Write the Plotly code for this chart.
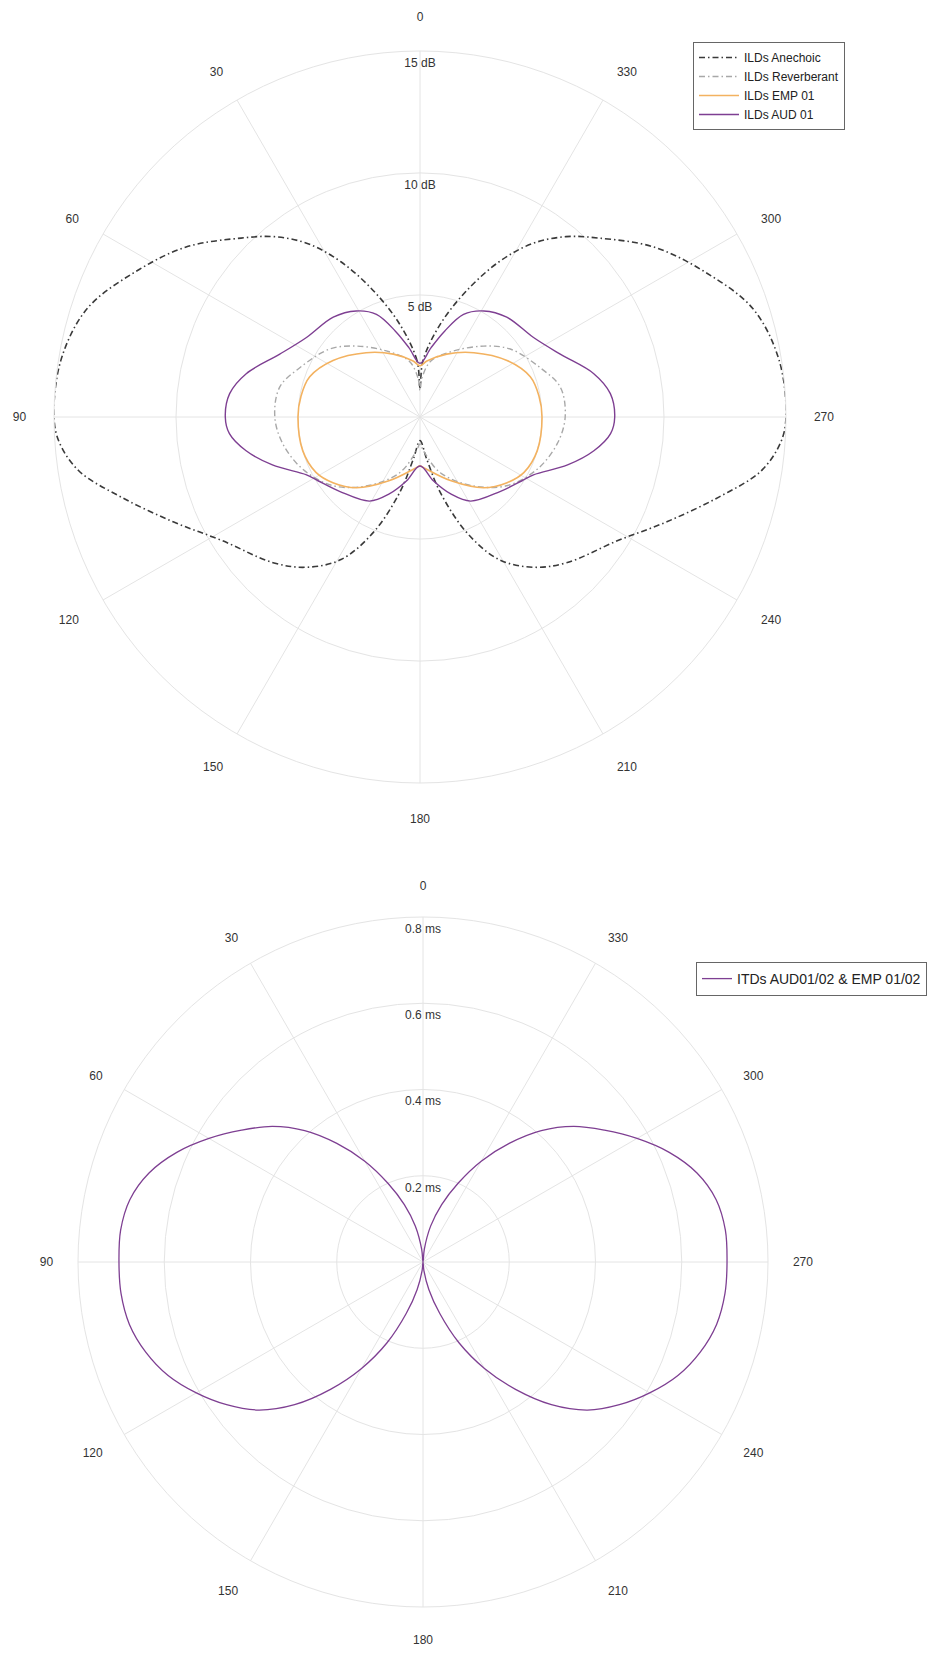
import plotly.graph_objects as go

# the page body has an 8px margin, so the figure is 928x1638 placed at (8,8)
OFF = 8
W, H = 944 - 2 * OFF, 1654 - 2 * OFF

# ---------------- ILD data (dB) ----------------
ane_theta = [0, 3, 12, 20, 27, 33, 39, 45, 54, 63, 72, 81, 90, 94, 99, 105, 113, 122, 135, 143, 151, 158, 165, 171, 180,
             189, 195, 202, 209, 217, 225, 238, 247, 255, 261, 266, 270, 279, 288, 297, 306, 315, 321, 327, 333, 340, 348, 357, 360]
ane_r = [1.20, 2.31, 3.83, 5.46, 7.14, 8.48, 9.51, 10.37, 11.85, 13.10, 14.35, 14.90, 15.00, 14.82, 14.15, 12.68, 10.99, 9.56, 8.46, 7.71, 6.68, 5.10, 3.19, 1.74, 0.97,
         1.74, 3.19, 5.10, 6.68, 7.71, 8.46, 9.56, 10.99, 12.68, 14.15, 14.82, 15.00, 14.90, 14.35, 13.10, 11.85, 10.37, 9.51, 8.48, 7.14, 5.46, 3.83, 2.31, 1.20]

rev_theta = [0, 3, 11, 27, 42, 53, 68, 78, 90, 101, 114, 128, 142, 160, 174, 180,
             186, 200, 218, 232, 246, 259, 270, 282, 292, 307, 318, 333, 349, 357, 360]
rev_r = [1.10, 1.61, 2.34, 3.04, 3.91, 4.63, 5.34, 5.88, 5.95, 5.73, 5.26, 4.56, 3.59, 2.43, 1.40, 1.10,
         1.40, 2.43, 3.59, 4.56, 5.26, 5.73, 5.95, 5.88, 5.34, 4.63, 3.91, 3.04, 2.34, 1.61, 1.10]

emp_theta = [0, 7, 23, 40, 57, 70, 80, 90, 106, 118, 127, 138, 154, 176, 180,
             184, 206, 222, 233, 242, 254, 270, 280, 290, 303, 320, 337, 353, 360]
emp_r = [2.10, 2.31, 2.80, 3.44, 4.25, 4.81, 4.95, 5.00, 5.00, 4.83, 4.47, 3.90, 2.91, 2.08, 2.00,
         2.08, 2.91, 3.90, 4.47, 4.83, 5.00, 5.00, 4.95, 4.81, 4.25, 3.44, 2.80, 2.31, 2.10]

aud_theta = [0, 9, 16, 23, 31, 41, 55, 66, 76, 83, 90, 95, 101, 108, 117, 122, 133, 149, 158, 168, 180,
             192, 202, 211, 227, 238, 243, 252, 259, 265, 270, 277, 284, 294, 305, 319, 329, 337, 344, 351, 360]
aud_r = [2.20, 2.87, 3.66, 4.57, 5.07, 5.42, 5.68, 6.31, 7.34, 7.86, 7.98, 7.84, 7.26, 6.36, 5.22, 4.93, 4.48, 4.02, 3.41, 2.68, 2.01,
         2.68, 3.41, 4.02, 4.48, 4.93, 5.22, 6.36, 7.26, 7.84, 7.98, 7.86, 7.34, 6.31, 5.68, 5.42, 5.07, 4.57, 3.66, 2.87, 2.20]

# ---------------- ITD data (ms) ----------------
itd_theta = [0, 6, 12, 18, 24, 30, 36, 42, 48, 54, 60, 66, 72, 78, 84, 90, 96, 102, 108, 114, 120, 126, 132, 138, 144, 150, 156, 162, 168, 174, 180,
             186, 192, 198, 204, 210, 216, 222, 228, 234, 240, 246, 252, 258, 264, 270, 276, 282, 288, 294, 300, 306, 312, 318, 324, 330, 336, 342, 348, 354, 360]
itd_r = [0.0, 0.030, 0.085, 0.140, 0.200, 0.270, 0.340, 0.410, 0.470, 0.520, 0.573, 0.625, 0.668, 0.695, 0.705, 0.705,
         0.704, 0.696, 0.676, 0.647, 0.607, 0.563, 0.513, 0.445, 0.365, 0.285, 0.205, 0.125, 0.065, 0.020, 0.0,
         0.020, 0.065, 0.125, 0.205, 0.285, 0.365, 0.445, 0.513, 0.563, 0.607, 0.647, 0.676, 0.696, 0.704,
         0.705, 0.705, 0.695, 0.668, 0.625, 0.573, 0.520, 0.470, 0.410, 0.340, 0.270, 0.200, 0.140, 0.085, 0.030, 0.0]

ang_ticks = [0, 30, 60, 90, 120, 150, 180, 210, 240, 270, 300, 330]
ang_labels = [str(a) for a in ang_ticks]
ild_ticks = [5, 10, 15]
ild_labels = ["5 dB", "10 dB", "15 dB"]
itd_ticks = [0.2, 0.4, 0.6, 0.8]
itd_labels = ["0.2 ms", "0.4 ms", "0.6 ms", "0.8 ms"]

FONT = "Liberation Sans, Arial, sans-serif"
TXT = "#333333"
GRID = "#E4E4E4"

fig = go.Figure()

dashdot = "6px,3px,1.5px,3px"
fig.add_trace(go.Scatterpolar(r=ane_r, theta=ane_theta, mode="lines", name="ILDs Anechoic",
                              line=dict(color="#3a3a3a", width=1.6, dash=dashdot, shape="spline"), subplot="polar"))
fig.add_trace(go.Scatterpolar(r=rev_r, theta=rev_theta, mode="lines", name="ILDs Reverberant",
                              line=dict(color="#a8a8a8", width=1.4, dash=dashdot, shape="spline"), subplot="polar"))
fig.add_trace(go.Scatterpolar(r=emp_r, theta=emp_theta, mode="lines", name="ILDs EMP 01",
                              line=dict(color="#F3B260", width=1.6, shape="spline"), subplot="polar"))
fig.add_trace(go.Scatterpolar(r=aud_r, theta=aud_theta, mode="lines", name="ILDs AUD 01",
                              line=dict(color="#7E3F92", width=1.4, shape="spline"), subplot="polar"))

fig.add_trace(go.Scatterpolar(r=itd_r, theta=itd_theta, mode="lines", name="ITDs AUD01/02 & EMP 01/02",
                              line=dict(color="#7E3F92", width=1.3, shape="spline"), subplot="polar2",
                              legend="legend2"))

# radial tick labels centred on the 0° spoke, a few pixels inside each ring
ild_lab_shift = 0.28   # dB  (~7 px)
itd_lab_shift = 0.016  # ms  (~7 px)
fig.add_trace(go.Scatterpolar(r=[t - ild_lab_shift for t in ild_ticks], theta=[0] * len(ild_ticks), mode="text",
                              text=ild_labels, textposition="bottom center",
                              textfont=dict(size=12, color=TXT, family=FONT),
                              showlegend=False, hoverinfo="skip", cliponaxis=False, subplot="polar"))
fig.add_trace(go.Scatterpolar(r=[t - itd_lab_shift for t in itd_ticks], theta=[0] * len(itd_ticks), mode="text",
                              text=itd_labels, textposition="bottom center",
                              textfont=dict(size=12, color=TXT, family=FONT),
                              showlegend=False, hoverinfo="skip", cliponaxis=False, subplot="polar2"))


def polar_layout(xd, yd, rmax, tickvals, tlen):
    return dict(
        domain=dict(x=xd, y=yd),
        bgcolor="white",
        radialaxis=dict(range=[0, rmax], tickvals=tickvals, showticklabels=False, ticks="",
                        showline=False, gridcolor=GRID, gridwidth=1),
        angularaxis=dict(rotation=90, direction="counterclockwise", tickvals=ang_ticks, ticktext=ang_labels,
                         showticklabels=True, ticks="outside", ticklen=tlen, tickcolor="rgba(0,0,0,0)",
                         tickfont=dict(size=12, color=TXT, family=FONT),
                         showline=True, linecolor=GRID, linewidth=1,
                         gridcolor=GRID, gridwidth=1),
    )


# absolute page positions: top centre (420,417) radius 366 ; bottom centre (423,1262) radius 345
c1x, c1y, R1 = 420 - OFF, 417 - OFF, 366
c2x, c2y, R2 = 423 - OFF, 1262 - OFF, 345
fig.update_layout(
    width=W, height=H, autosize=False,
    margin=dict(l=0, r=0, t=0, b=0),
    paper_bgcolor="white",
    font=dict(family=FONT, color=TXT, size=12),
    polar=polar_layout([(c1x - R1) / W, (c1x + R1) / W], [1 - (c1y + R1) / H, 1 - (c1y - R1) / H], 15, [5, 10], 25),
    polar2=polar_layout([(c2x - R2) / W, (c2x + R2) / W], [1 - (c2y + R2) / H, 1 - (c2y - R2) / H], 0.8,
                        [0.2, 0.4, 0.6], 22),
    legend=dict(x=(693 - OFF) / W, y=1 - (42 - OFF) / H, xanchor="left", yanchor="top", bgcolor="white",
                bordercolor="#666666", borderwidth=1, font=dict(size=12, color="#222", family=FONT),
                itemwidth=40, tracegroupgap=0),
    legend2=dict(x=(696 - OFF) / W, y=1 - (962 - OFF) / H, xanchor="left", yanchor="top", bgcolor="white",
                 bordercolor="#666666", borderwidth=1, font=dict(size=14, color="#222", family=FONT),
                 itemwidth=30),
    showlegend=True,
)

fig.write_html("out.html")
